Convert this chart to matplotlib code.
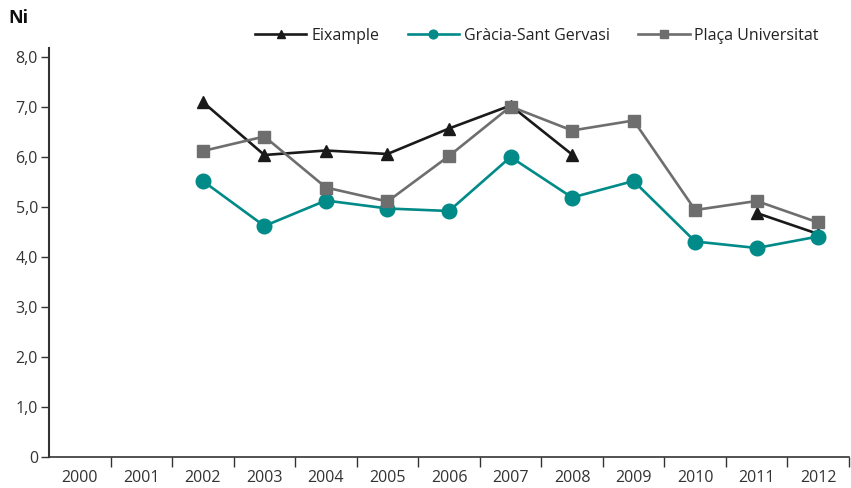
import matplotlib.pyplot as plt
import numpy as np
from matplotlib.ticker import FuncFormatter, FixedLocator

years = ['2000', '2001', '2002', '2003', '2004', '2005', '2006',
         '2007', '2008', '2009', '2010', '2011', '2012']

nan = np.nan
eixample = [nan, nan, 7.10, 6.04, 6.13, 6.06, 6.57, 7.03, 6.05, nan, nan, 4.88, 4.46]
gracia = [nan, nan, 5.52, 4.62, 5.13, 4.97, 4.92, 6.00, 5.19, 5.52, 4.31, 4.18, 4.41]
placa = [nan, nan, 6.12, 6.41, 5.39, 5.11, 6.02, 7.01, 6.53, 6.73, 4.94, 5.12, 4.69]

plt.rcParams['font.family'] = ['Open Sans', 'DejaVu Sans']

fig = plt.figure(figsize=(8.51, 4.88), dpi=100)
ax = fig.add_axes([49 / 851, 31 / 488, 800 / 851, 409 / 488])

x = np.arange(len(years))
c_black = '#1a1a1a'
c_teal = '#008a88'
c_gray = '#6e6e6e'

# plotting order matters: later series sit on top of the triangles
ax.plot(x, eixample, color=c_black, lw=1.9, marker='^', ms=9, label='Eixample')
ax.plot(x, gracia, color=c_teal, lw=1.9, marker='o', ms=10.5, label='Gràcia-Sant Gervasi')
ax.plot(x, placa, color=c_gray, lw=1.9, marker='s', ms=9, label='Plaça Universitat')

ax.set_xlim(-0.5, len(years) - 0.5)
ax.set_ylim(0, 8.18)

ax.set_yticks(np.arange(0, 9, 1))
ax.yaxis.set_major_formatter(FuncFormatter(
    lambda v, p: '0' if v == 0 else f'{v:.1f}'.replace('.', ',')))
ax.set_xticks(x)
ax.set_xticklabels(years)
ax.xaxis.set_minor_locator(FixedLocator(np.arange(0.5, len(years), 1)))
ax.tick_params(axis='x', which='major', length=0, pad=9, labelsize=11.5, colors='#333333')
ax.tick_params(axis='x', which='minor', length=7, width=1, direction='out', color='#333333')
ax.tick_params(axis='y', length=6, width=1, labelsize=11.5, colors='#333333', pad=2)

for s in ['top', 'right']:
    ax.spines[s].set_visible(False)
ax.spines['left'].set_color('#333333')
ax.spines['bottom'].set_color('#333333')
ax.spines['left'].set_linewidth(1.5)
ax.spines['bottom'].set_linewidth(1.2)

fig.text(8 / 851, 1 - 18 / 488, 'Ni', fontsize=13, fontweight='bold', va='center', color='#111111')

leg = ax.legend(loc='center', bbox_to_anchor=(537 / 851, 1 - 36 / 488),
                bbox_transform=fig.transFigure, ncol=3, frameon=False,
                markerscale=0.6, handlelength=3.2, handletextpad=0.3,
                columnspacing=1.8, fontsize=11.5)
for t in leg.get_texts():
    t.set_color('#222222')

fig.savefig('out.png', dpi=100)
